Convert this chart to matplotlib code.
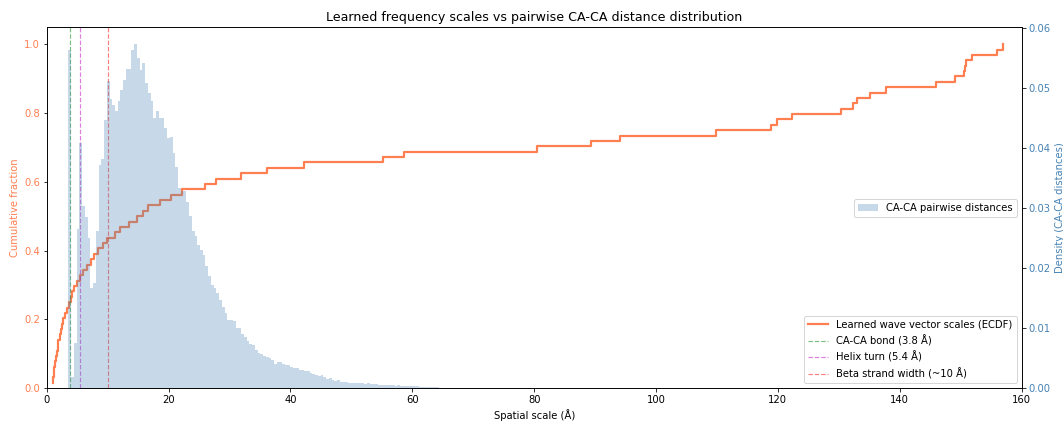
import numpy as np
import matplotlib
matplotlib.use("Agg")
import matplotlib.pyplot as plt

# Learned wave vector scales (Å), sorted, read from the ECDF steps
learned_scales = [0.95, 1.05, 1.15, 1.25, 1.36, 1.5, 1.65, 1.8, 1.91, 2.1,
                  2.3, 2.5, 2.7, 3.0, 3.35, 3.6, 3.9, 4.2, 4.55, 5.0,
                  5.4, 6.0, 6.56, 7.27, 7.81, 8.47, 9.29, 9.94, 11.2, 12.1,
                  13.56, 14.77, 15.75, 16.67, 18.6, 20.4, 22.15, 26.0, 27.7, 31.8,
                  36.1, 42.3, 55.2, 58.7, 80.5, 89.3, 94.1, 109.9, 118.8, 119.8,
                  122.4, 130.3, 132.3, 133.0, 135.2, 137.7, 146.0, 149.0, 150.6, 150.7,
                  150.9, 151.9, 155.9, 156.9]

# CA-CA pairwise distance histogram (density per bin)
hist_start = 3.55
hist_width = 0.45
hist_density = [0.0564, 0.0019, 0.0075, 0.0265, 0.0409, 0.0303, 0.0285, 0.0250, 0.0167, 0.0175,
                0.0261, 0.0371, 0.0381, 0.0447, 0.0511, 0.0481, 0.0472, 0.0461, 0.0478, 0.0496,
                0.0514, 0.0532, 0.0532, 0.0563, 0.0573, 0.0550, 0.0530, 0.0542, 0.0508, 0.0492,
                0.0478, 0.0450, 0.0461, 0.0450, 0.0450, 0.0433, 0.0417, 0.0419, 0.0392, 0.0369,
                0.0333, 0.0328, 0.0328, 0.0310, 0.0286, 0.0261, 0.0253, 0.0239, 0.0230, 0.0222,
                0.0203, 0.0187, 0.0172, 0.0167, 0.0158, 0.0147, 0.0135, 0.0126, 0.0114, 0.0114,
                0.0112, 0.0100, 0.0100, 0.0091, 0.0086, 0.0078, 0.0074, 0.0072, 0.0064, 0.0058,
                0.0057, 0.0053, 0.0052, 0.0050, 0.0047, 0.0041, 0.0043, 0.0043, 0.0040, 0.0039,
                0.0038, 0.0036, 0.0034, 0.0033, 0.0031, 0.0031, 0.0028, 0.0028, 0.0025, 0.0024,
                0.0022, 0.0020, 0.0022, 0.0018, 0.0016, 0.0017, 0.0013, 0.0012, 0.0013, 0.0010,
                0.0011, 0.0010, 0.0009, 0.0009, 0.0009, 0.0008, 0.0008, 0.0008, 0.0007, 0.0008,
                0.0007, 0.0007, 0.0007, 0.0006, 0.0005, 0.0005, 0.0006, 0.0005, 0.0005, 0.0004,
                0.0005, 0.0004, 0.0004, 0.0004, 0.0003, 0.0003, 0.0003, 0.0003, 0.0002, 0.0002,
                0.0002, 0.0002, 0.00015, 0.00015, 0.00012, 0.0001, 0.0001, 0.0001, 0.00008, 0.00008,
                0.00006, 0.00005, 0.00005]

# Reference structural distances
ref_names = ["CA-CA bond (3.8 Å)", "Helix turn (5.4 Å)", "Beta strand width (~10 Å)"]
ref_values = [3.8, 5.4, 10.0]
ref_colors = ["green", "m", "r"]

n = len(learned_scales)
ecdf = np.arange(1, n + 1) / n
edges = hist_start + hist_width * np.arange(len(hist_density) + 1)

dpi = 72
fig, ax = plt.subplots(figsize=(1063 / dpi, 421 / dpi), dpi=dpi)
fig.subplots_adjust(left=0.044, right=0.961, top=0.936, bottom=0.078)

ax.step(learned_scales, ecdf, where="post", color="coral", lw=2.2,
        label="Learned wave vector scales (ECDF)")
for name, val, col in zip(ref_names, ref_values, ref_colors):
    ax.axvline(val, color=col, ls="--", lw=1.2, alpha=0.5, label=name)
ax.set_xlabel("Spatial scale (Å)")
ax.set_ylabel("Cumulative fraction", color="coral")
ax.tick_params(axis="y", labelcolor="coral")
ax.set_xlim(0, 160)
ax.set_ylim(0, 1.05)
ax.legend(loc="lower right")

ax2 = ax.twinx()
ax2.hist(edges[:-1], bins=edges, weights=hist_density, color="steelblue", alpha=0.3,
         label="CA-CA pairwise distances")
ax2.set_ylabel("Density (CA-CA distances)", color="steelblue")
ax2.tick_params(axis="y", labelcolor="steelblue")
ax2.legend(loc="center right")

ax.set_title("Learned frequency scales vs pairwise CA-CA distance distribution", fontsize=12.6)
fig.savefig("out.png", dpi=dpi)
